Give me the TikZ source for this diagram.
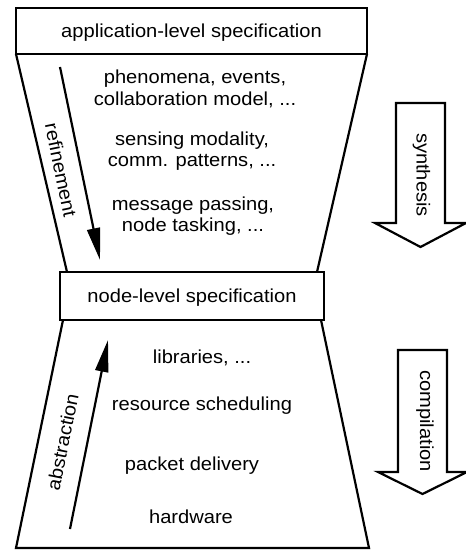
\documentclass[tikz,border=0pt]{standalone}
\usepackage{fontspec}
\setmainfont{Liberation Sans}[FakeStretch=1.07]
\usepackage{tikz}
\usetikzlibrary{calc,arrows.meta}

\begin{document}
\begin{tikzpicture}[x=0.5pt, y=-0.5pt, font=\fontsize{9.4pt}{10.8pt}\selectfont]
		\tikzset{
			spec/.style={draw, line width=1.1pt, inner sep=0pt, outer sep=0pt, text depth=0pt},
			layer/.style={align=center, inner sep=0pt},
			flow/.style={line width=1.1pt, -{Triangle[length=16pt, width=6.5pt]}},
			hollow/.style={draw, line width=1.1pt, line join=miter},
			funnel/.style={line width=1.1pt, line join=miter}
		}
		\useasboundingbox (0,0) rectangle (465,550);

		% Specification boxes
		\node[spec, minimum width=175.5pt, minimum height=23pt] (app) at (191.5,31) {application-level specification};
		\node[spec, minimum width=132pt, minimum height=24pt] (nodespec) at (192,296) {node-level specification};

		% Upper funnel
		\draw[funnel] (app.south west) -- ($(nodespec.north west)+(7,0)$);
		\draw[funnel] (app.south east) -- ($(nodespec.north east)+(-7,0)$);

		% Lower funnel
		\coordinate (baseL) at (16,548);
		\coordinate (baseR) at (369,548);
		\draw[funnel] ($(nodespec.south west)+(3,0)$) -- (baseL) -- (baseR) -- ($(nodespec.south east)+(-3,0)$);

		% Layers above the node level
		\node[layer] (pheno) at (195,89) {phenomena, events,\\collaboration model, ...};
		\node[layer] (sensing) at (192,151) {sensing modality,\\comm. patterns, ...};
		\node[layer] (msg) at (193,216) {message passing,\\node tasking, ...};

		% Layers below the node level
		\node[anchor=base] (libs) at (202,363) {libraries, ...};
		\node[anchor=base] (sched) at (202,410) {resource scheduling};
		\node[anchor=base] (packet) at (192,470) {packet delivery};
		\node[anchor=base] (hw) at (191,523) {hardware};

		% Refinement / abstraction
		\coordinate (refTop) at (60,67);
		\coordinate (refTip) at (100,260);
		\draw[flow] (refTop) -- (refTip);
		\node[rotate=-78.3] (refLbl) at (61,170) {refinement};

		\coordinate (absFoot) at (70,529);
		\coordinate (absTip) at (108,340);
		\draw[flow] (absFoot) -- (absTip);
		\node[rotate=78.6] (absLbl) at (62.5,442) {abstraction};

		% Synthesis (hollow block arrow)
		\draw[hollow] (396,103) -- (445,103) -- (445,223) -- (466,223) -- (420.5,247) -- (375,223) -- (396,223) -- cycle;
		\node[rotate=-90] (synLbl) at (421.5,175) {synthesis};

		% Compilation (hollow block arrow)
		\draw[hollow] (398,350) -- (447,350) -- (447,472) -- (467,472) -- (422.5,494) -- (378,472) -- (398,472) -- cycle;
		\node[rotate=-90] (compLbl) at (425,421) {compilation};

	\end{tikzpicture}
\end{document}
